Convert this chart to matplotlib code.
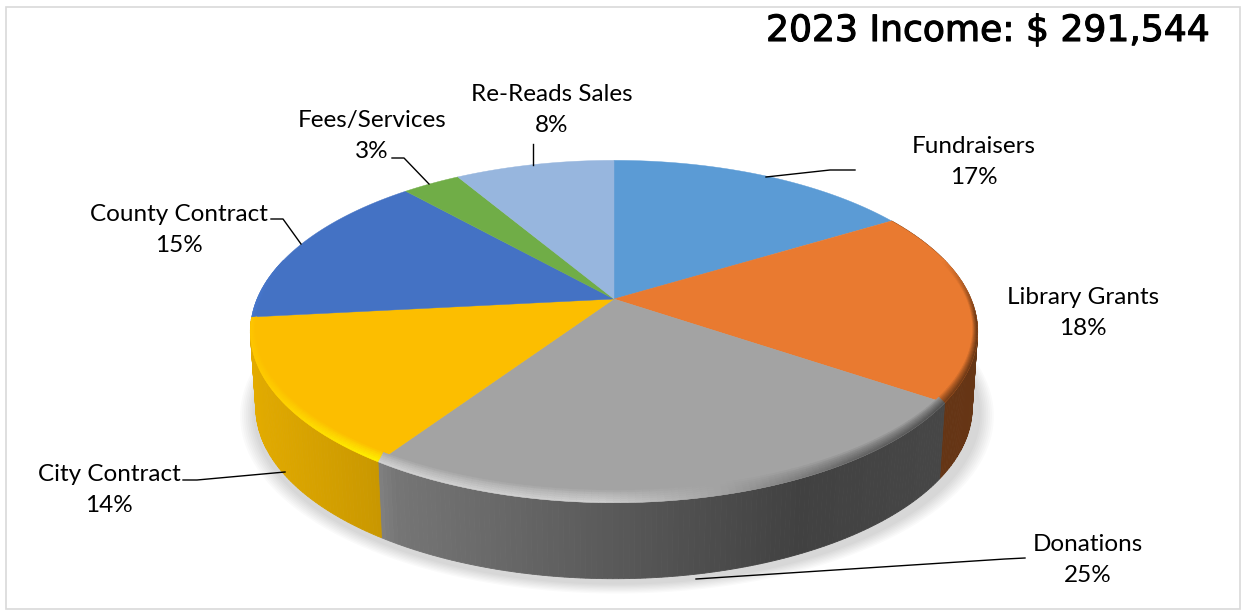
import numpy as np
import matplotlib
matplotlib.use("Agg")
import matplotlib.pyplot as plt
import matplotlib.patheffects as pe
from matplotlib.colors import to_rgb
from matplotlib.patches import Rectangle

# slices, clockwise from 12 o'clock
categories = ["Fundraisers", "Library Grants", "Donations", "City Contract",
              "County Contract", "Fees/Services", "Re-Reads Sales"]
shares = [16.3, 18.2, 24.9, 13.9, 15.1, 3.1, 8.5]
pct_labels = ["17%", "18%", "25%", "14%", "15%", "3%", "8%"]
colors = ["#5B9BD5", "#E97A30", "#A3A3A3", "#FCBE00", "#4472C4", "#70AD47", "#97B6DE"]
title = "2023 Income: $ 291,544"

# label centres and leader lines, in reference pixels
label_xy = [(974, 162), (1083, 313), (1088, 560), (109, 490), (179, 230), (372, 136), (552, 110)]
leaders = [
    [(766, 177), (830, 170), (855, 170)],
    [],
    [(696, 579), (1005, 559), (1025, 558)],
    [(285, 472), (197, 480), (183, 480)],
    [(301, 244), (283, 219), (271, 219)],
    [(429, 184), (404, 158), (392, 158)],
    [(533, 165), (533, 144)],
]

# pie geometry: circle seen in perspective
CX, CY = 614, 299
A, B, K = 357, 165, 0.19
DROP = 76
BOTTOM_SCALE = 0.985


def project(t, sx=1.0, sy=1.0):
    X = np.sin(t) * sx
    Y = -np.cos(t) * sy
    w = 1 - K * Y
    return CX + A * X / w, CY + B * Y / w


def wall_shade(x):
    return np.interp(x, [250, 375, 395, 800, 978], [0.90, 0.80, 0.72, 0.40, 0.44])


def rim_shade(x):
    return np.interp(x, [250, 300, 383, 600, 720, 850, 978],
                     [1.05, 1.15, 1.30, 1.28, 1.0, 0.6, 0.42])


fig = plt.figure(figsize=(12.43, 6.10), dpi=100)
ax = fig.add_axes([0, 0, 1, 1])
ax.set_xlim(0, 1243)
ax.set_ylim(610, 0)
ax.axis("off")

ax.add_patch(Rectangle((6.5, 6.5), 1234, 602, fill=False, ec="#D9D9D9", lw=1.2))

edges = np.cumsum([0] + shares) / sum(shares) * 2 * np.pi

# soft shadow under the pie
tt = np.linspace(0, 2 * np.pi, 360)
for grow in np.linspace(1.035, 1.0, 8):
    sx, sy = project(tt, grow, grow)
    ax.fill(sx + 3, sy + DROP + 6, color="black", alpha=0.018, lw=0, zorder=1)

# side wall, in small strips so the shading can run along it
for i, col in enumerate(colors):
    # back slices have no visible wall
    if -np.cos((edges[i] + edges[i + 1]) / 2) < -0.05:
        continue
    base = np.array(to_rgb(col))
    n = max(int((edges[i + 1] - edges[i]) * 80), 2)
    ts = np.linspace(edges[i], edges[i + 1], n + 1)
    for t0, t1 in zip(ts[:-1], ts[1:]):
        seg = np.linspace(t0, t1, 3)
        x, y = project(seg)
        xb = CX + (x - CX) * BOTTOM_SCALE
        yb = y + DROP
        f = wall_shade(x.mean())
        c = np.clip(base * f, 0, 1)
        ax.fill(np.r_[x, xb[::-1]], np.r_[y, yb[::-1]], color=c, lw=0.6, zorder=2)

# top face
for i, col in enumerate(colors):
    ts = np.linspace(edges[i], edges[i + 1], 120)
    x, y = project(ts)
    ax.fill(np.r_[CX, x], np.r_[CY, y], color=col, lw=0.3, zorder=3)

# bevel along the front rim
rings = np.linspace(0, 1, 7)
for i, col in enumerate(colors):
    base = np.array(to_rgb(col))
    n = max(int((edges[i + 1] - edges[i]) * 60), 2)
    ts = np.linspace(edges[i], edges[i + 1], n + 1)
    for t0, t1 in zip(ts[:-1], ts[1:]):
        tm = (t0 + t1) / 2
        Y = -np.cos(tm)
        gate = np.clip((Y + 0.25) / 0.35, 0, 1)
        if gate == 0:
            continue
        seg = np.linspace(t0, t1, 3)
        xm, _ = project(tm)
        target = np.clip(base * rim_shade(xm), 0, 1)
        for s0, s1 in zip(rings[:-1], rings[1:]):
            x0, y0 = project(seg, 1 - 0.012 * (1 - s0), 1 - 0.05 * (1 - s0))
            x1, y1 = project(seg, 1 - 0.012 * (1 - s1), 1 - 0.05 * (1 - s1))
            w = np.sin(np.pi * min((s0 + s1) / 2 + 0.15, 0.5)) * gate
            c = base + (target - base) * w * ((s0 + s1) / 2 + 0.2) / 1.2
            ax.fill(np.r_[x0, x1[::-1]], np.r_[y0, y1[::-1]], color=c, lw=0.3, zorder=4)

for pts in leaders:
    if pts:
        xs, ys = zip(*pts)
        ax.plot(xs, ys, color="black", lw=1.0, zorder=5)

for name, pct, (lx, ly) in zip(categories, pct_labels, label_xy):
    ax.text(lx, ly, name + "\n" + pct, ha="center", va="center", fontsize=17.5,
            family="Lato", color="black", linespacing=1.6, zorder=6)

ax.text(988, 31, title, ha="center", va="center", fontsize=26, family="DejaVu Sans",
        color="black", zorder=6,
        path_effects=[pe.withStroke(linewidth=0.8, foreground="black")])

plt.savefig("out.png", dpi=100)
